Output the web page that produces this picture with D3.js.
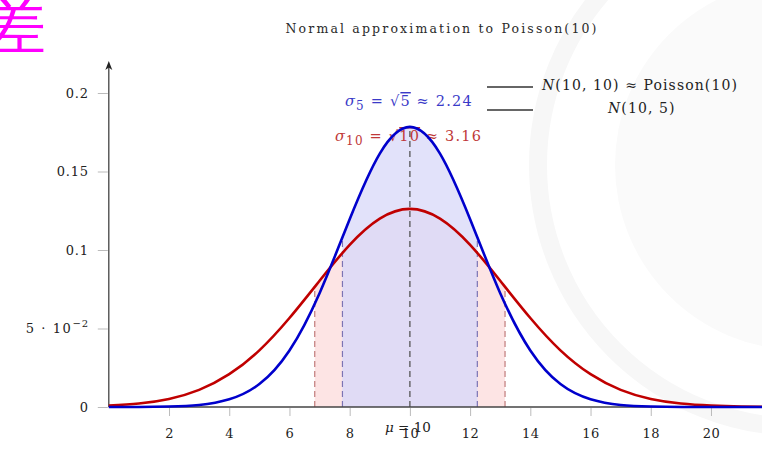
<!DOCTYPE html>
<html>
<head>
<meta charset="utf-8">
<script src="https://cdn.jsdelivr.net/npm/d3@7"></script>
<style>
  body { margin: 0; background: #fff; }
  svg { display: block; }
  text { font-family: "DejaVu Serif", "Liberation Serif", serif; }
</style>
</head>
<body>
<svg id="chart" width="762" height="449"></svg>
<script>
// data
const mu = 10
const seriesNames = ['N(10, 10) ≈ Poisson(10)', 'N(10, 5)']
const seriesColors = ['#c00000', '#0000cc']
const sigmas = [3.16, 2.24]
const sigmaLabels = [['10', '10', '3.16'], ['5', '5', '2.24']] // subscript, sqrt arg, value
const xs = [0, 1, 2, 3, 4, 5, 6, 7, 8, 9, 10, 11, 12, 13, 14, 15, 16, 17, 18, 19, 20, 21, 22]
const density10 = [0.0009, 0.0022, 0.0051, 0.0109, 0.0209, 0.0361, 0.0567, 0.0804, 0.1033, 0.1200, 0.1262,
  0.1200, 0.1033, 0.0804, 0.0567, 0.0361, 0.0209, 0.0109, 0.0051, 0.0022, 0.0009, 0.0003, 0.0001]
const density5 = [0, 0, 0.0003, 0.0013, 0.0049, 0.0146, 0.0360, 0.0725, 0.1196, 0.1614, 0.1784,
  0.1614, 0.1196, 0.0725, 0.0360, 0.0146, 0.0049, 0.0013, 0.0003, 0, 0, 0, 0]
const xTicks = [2, 4, 6, 8, 10, 12, 14, 16, 18, 20]
const yTicks = [0, 0.05, 0.1, 0.15, 0.2]
const yTickLabels = ['0', '5 · 10', '0.1', '0.15', '0.2']

const svg = d3.select('#chart')

// 刻度尺
const x = d3.scaleLinear().domain([0, 22]).range([108.8, 771.2])
const y = d3.scaleLinear().domain([0, 0.2]).range([407, 93])

const series = [density10, density5].map(ds => xs.map((v, i) => ({ x: v, y: ds[i] })))

// faint watermark on the right
const wm = svg.append('g')
wm.append('circle').attr('cx', 800).attr('cy', 165).attr('r', 262)
  .attr('fill', 'none').attr('stroke', '#f7f7f7').attr('stroke-width', 18)
wm.append('circle').attr('cx', 800).attr('cy', 165).attr('r', 185)
  .attr('fill', '#fafafa')

const defs = svg.append('defs')
const area = d3.area()
  .x(d => x(d.x))
  .y0(y(0))
  .y1(d => y(d.y))
  .curve(d3.curveNatural)
const line = d3.line()
  .x(d => x(d.x))
  .y(d => y(d.y))
  .curve(d3.curveNatural)

// clip under each curve, and a band clip mu ± sigma
series.forEach((s, i) => {
  defs.append('clipPath').attr('id', `under${i}`)
    .append('path').attr('d', area(s))
  defs.append('clipPath').attr('id', `band${i}`)
    .append('rect')
    .attr('x', x(mu - sigmas[i])).attr('y', 0)
    .attr('width', x(mu + sigmas[i]) - x(mu - sigmas[i])).attr('height', 449)
})

// 阴影区域: pink band, lavender band, and their overlap
svg.append('path').attr('d', area(series[0]))
  .attr('clip-path', 'url(#band0)').attr('fill', '#fde4e4')
svg.append('path').attr('d', area(series[1]))
  .attr('clip-path', 'url(#band1)').attr('fill', '#e2e2fa')
svg.append('g').attr('clip-path', 'url(#band1)')
  .append('path').attr('d', area(series[0]))
  .attr('fill', '#e0dbf5')

// 虚线
const dashColors = ['#c07a7a', '#7c74b4']
series.forEach((s, i) => {
  const g = svg.append('g').attr('clip-path', `url(#under${i})`)
  g.selectAll('line').data([mu - sigmas[i], mu + sigmas[i]]).join('line')
    .attr('x1', d => x(d)).attr('x2', d => x(d))
    .attr('y1', y(0)).attr('y2', y(0.2))
    .attr('stroke', dashColors[i]).attr('stroke-width', 1.2)
    .attr('stroke-dasharray', '6,4')
})
svg.append('g').attr('clip-path', 'url(#under1)')
  .append('line')
  .attr('x1', x(mu)).attr('x2', x(mu))
  .attr('y1', y(0)).attr('y2', y(0.2))
  .attr('stroke', '#555').attr('stroke-width', 1.3)
  .attr('stroke-dasharray', '6,4')

// 坐标轴
const xAxis = svg.append('g').attr('transform', `translate(0,${y(0)})`)
  .call(d3.axisBottom(x).tickValues(xTicks).tickSize(9).tickPadding(13).tickFormat(d3.format('d')))
xAxis.select('.domain').attr('d', `M${x(0)},0H762`).attr('stroke', '#444').attr('stroke-width', 1.3)
xAxis.selectAll('.tick line').attr('stroke', '#bbb').attr('y1', 1)
xAxis.selectAll('.tick text').attr('font-size', 13).attr('fill', '#222')
  .attr('font-family', 'DejaVu Serif').attr('letter-spacing', 0.5)

const yAxis = svg.append('g').attr('transform', `translate(${x(0)},0)`)
  .call(d3.axisLeft(y).tickValues(yTicks).tickSize(11).tickPadding(9).tickFormat((d, i) => yTickLabels[i]))
yAxis.select('.domain').attr('d', `M0,${y(0)}V66`).attr('stroke', '#444').attr('stroke-width', 1.3)
yAxis.selectAll('.tick line').attr('stroke', '#bbb').attr('x2', -11).attr('x1', -1)
yAxis.selectAll('.tick text').attr('font-size', 13).attr('fill', '#222')
  .attr('font-family', 'DejaVu Serif').attr('letter-spacing', 0.8)
yAxis.selectAll('.tick text').filter(d => d === 0.05)
  .attr('letter-spacing', 1.6)
  .append('tspan').attr('dy', -6).attr('font-size', 10).attr('letter-spacing', 0.8).text('−2')
yAxis.append('path').attr('d', 'M0,61 L-3.5,70 L0,67.5 L3.5,70 Z').attr('fill', '#222')

// 标题
svg.append('text')
  .attr('x', 441).attr('y', 33)
  .attr('text-anchor', 'middle')
  .attr('font-size', 12.5)
  .attr('fill', '#2a2a2a')
  .attr('textLength', 311).attr('lengthAdjust', 'spacing')
  .text('Normal approximation to Poisson(10)')

// sigma 标注
const labelColors = ['#c03838', '#3a3ac8']
const labelPos = [[335, 141], [345, 106]]
sigmaLabels.forEach((lab, i) => {
  const t = svg.append('text')
    .attr('x', labelPos[i][0]).attr('y', labelPos[i][1])
    .attr('font-size', 14.5).attr('fill', labelColors[i])
    .attr('letter-spacing', 1.2)
  t.append('tspan').attr('font-style', 'italic').text('σ')
  t.append('tspan').attr('dy', 4).attr('font-size', 12).text(lab[0])
  t.append('tspan').attr('dy', -4).text(' = √')
  t.append('tspan').style('text-decoration', 'overline').text(lab[1])
  t.append('tspan').text(' ≈ ' + lab[2])
})

// 图例
const legendY = [87, 110]
const legendTextX = [542, 608]
seriesNames.forEach((name, i) => {
  svg.append('line')
    .attr('x1', 487).attr('x2', 533)
    .attr('y1', legendY[i]).attr('y2', legendY[i])
    .attr('stroke', '#333').attr('stroke-width', 1.3)
  const t = svg.append('text')
    .attr('x', legendTextX[i]).attr('y', legendY[i] + 3)
    .attr('font-size', 14).attr('fill', '#222')
    .attr('letter-spacing', 1.1)
  t.append('tspan').attr('font-style', 'italic').text('N')
  t.append('tspan').text(name.slice(1))
})

// 曲线
series.forEach((s, i) => {
  svg.append('path')
    .datum(s)
    .attr('d', line)
    .attr('fill', 'none')
    .attr('stroke', seriesColors[i])
    .attr('stroke-width', 2.6)
})

// mu 标注
svg.append('text')
  .attr('x', 385).attr('y', 432)
  .attr('font-size', 13.5).attr('fill', '#222')
  .html('<tspan font-style="italic">μ</tspan> = 10')

// 左上角字
svg.append('text')
  .attr('x', -16).attr('y', 47)
  .attr('font-family', 'Noto Sans CJK SC')
  .attr('font-size', 62)
  .attr('fill', '#ff00ff')
  .text('差')
</script>
</body>
</html>
